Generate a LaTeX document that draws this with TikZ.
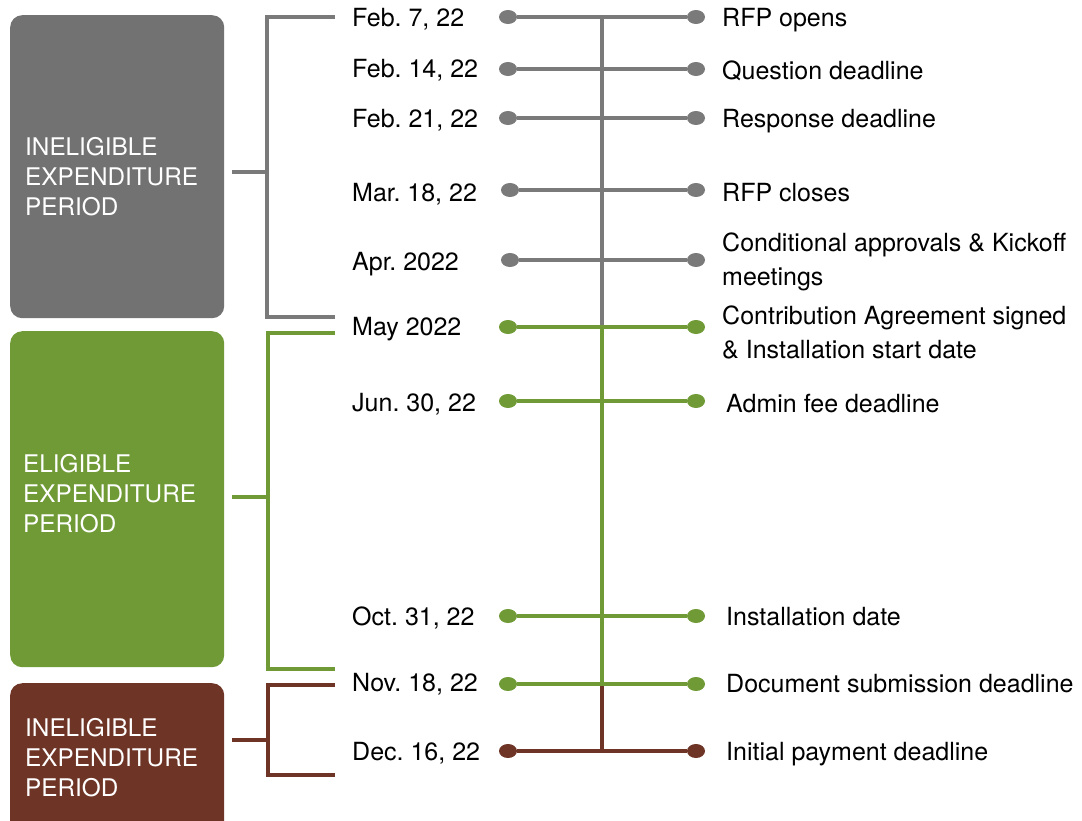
\documentclass[tikz,border=0pt]{standalone}
\usepackage{fontspec}
\setmainfont{TeX Gyre Heros}
\usetikzlibrary{positioning,shapes.geometric}
\definecolor{periodgray}{HTML}{727272}
\definecolor{linegray}{HTML}{7A7A7A}
\definecolor{periodgreen}{HTML}{6F9A36}
\definecolor{periodbrown}{HTML}{6E3527}
\frenchspacing

\begin{document}
\begin{tikzpicture}[
  x=1pt, y=-1pt,
  boxstyle/.style={rounded corners=12pt, draw=none, inner sep=0, anchor=north west, minimum width=214pt},
  boxtext/.style={anchor=north west, align=left, text=white, inner sep=0, font=\fontsize{24.3}{30}\selectfont},
  datestyle/.style={anchor=west, inner sep=0, text height=18pt, text depth=0pt, font=\fontsize{25}{34}\selectfont},
  labelstyle/.style={anchor=west, inner sep=0, text height=18pt, text depth=0pt, font=\fontsize{25}{34}\selectfont},
  twolinestyle/.style={anchor=north west, inner sep=0, align=left, font=\fontsize{25}{34}\selectfont},
  dotstyle/.style={ellipse, inner sep=0, outer sep=0, minimum width=18pt, minimum height=14pt, fill=#1},
  linestyle/.style={draw=#1, line width=3.4pt}
]
  \useasboundingbox (0,0) rectangle (1082,820);

  % period boxes
  \node[boxstyle, fill=periodgray, minimum height=303pt] (P1) at (10,15) {};
  \node[boxstyle, fill=periodgreen, minimum height=336pt] (P2) at (10,331) {};
  \node[boxstyle, fill=periodbrown, minimum height=160pt] (P3) at (10,683) {};

  \node[boxtext] (P1TEXT) at (25,137) {INELIGIBLE\\EXPENDITURE\\PERIOD};
  \node[boxtext] (P2TEXT) at (23,454) {ELIGIBLE\\EXPENDITURE\\PERIOD};
  \node[boxtext] (P3TEXT) at (25,718) {INELIGIBLE\\EXPENDITURE\\PERIOD};

  % dates
  \node[datestyle] (D1) at (352,17) {Feb. 7, 22};
  \node[datestyle] (D2) at (352,68) {Feb. 14, 22};
  \node[datestyle] (D3) at (352,118) {Feb. 21, 22};
  \node[datestyle] (D4) at (352,192) {Mar. 18, 22};
  \node[datestyle] (D5) at (352,261) {Apr. 2022};
  \node[datestyle] (D6) at (352,326) {May 2022};
  \node[datestyle] (D7) at (352,402) {Jun. 30, 22};
  \node[datestyle] (D8) at (352,616) {Oct. 31, 22};
  \node[datestyle] (D9) at (352,682) {Nov. 18, 22};
  \node[datestyle] (D10) at (352,751) {Dec. 16, 22};

  % dots
  \node[dotstyle=linegray] (L1) at (508,17) {};
  \node[dotstyle=linegray] (L2) at (508,69) {};
  \node[dotstyle=linegray] (L3) at (508,118) {};
  \node[dotstyle=linegray] (L4) at (510,190) {};
  \node[dotstyle=linegray] (L5) at (510,260) {};
  \node[dotstyle=periodgreen] (L6) at (508,327) {};
  \node[dotstyle=periodgreen] (L7) at (508,401) {};
  \node[dotstyle=periodgreen] (L8) at (508,616) {};
  \node[dotstyle=periodgreen] (L9) at (508,684) {};
  \node[dotstyle=periodbrown] (L10) at (508,751) {};

  \node[dotstyle=linegray] (R1) at (696,17) {};
  \node[dotstyle=linegray] (R2) at (696,69) {};
  \node[dotstyle=linegray] (R3) at (696,118) {};
  \node[dotstyle=linegray] (R4) at (696,190) {};
  \node[dotstyle=linegray] (R5) at (696,260) {};
  \node[dotstyle=periodgreen] (R6) at (696,327) {};
  \node[dotstyle=periodgreen] (R7) at (696,401) {};
  \node[dotstyle=periodgreen] (R8) at (696,616) {};
  \node[dotstyle=periodgreen] (R9) at (696,684) {};
  \node[dotstyle=periodbrown] (R10) at (696,751) {};

  % events
  \node[labelstyle] (T1) at (722,17) {RFP opens};
  \node[labelstyle] (T2) at (722,70) {Question deadline};
  \node[labelstyle] (T3) at (722,118) {Response deadline};
  \node[labelstyle] (T4) at (722,192) {RFP closes};
  \node[twolinestyle] (T5) at (722,233) {Conditional approvals \& Kickoff\\meetings};
  \node[twolinestyle] (T6) at (722,306) {Contribution Agreement signed\\\& Installation start date};
  \node[labelstyle] (T7) at (726,403) {Admin fee deadline};
  \node[labelstyle] (T8) at (726,616) {Installation date};
  \node[labelstyle] (T9) at (726,683) {Document submission deadline};
  \node[labelstyle] (T10) at (726,751) {Initial payment deadline};

  % spine and brackets
  \coordinate (SPINE) at (602,0);
  \coordinate (BX) at (267,0);
  \coordinate (BX2) at (268,0);
  \coordinate (S1) at (232,172);
  \coordinate (S2) at (232,497);
  \coordinate (S3) at (232,740);
  \coordinate (G1) at (335,17);
  \coordinate (G2) at (335,317);
  \coordinate (G3) at (335,333);
  \coordinate (G4) at (335,669);
  \coordinate (G5) at (335,685);
  \coordinate (G6) at (335,775);

  \draw[linestyle=linegray] (L1 -| SPINE) -- (L6 -| SPINE);
  \draw[linestyle=periodgreen] (L6 -| SPINE) -- (L9 -| SPINE);
  \draw[linestyle=periodbrown] (L9 -| SPINE) -- (L10 -| SPINE);

  \draw[linestyle=linegray] (L1) -- (R1);
  \draw[linestyle=linegray] (L2) -- (R2);
  \draw[linestyle=linegray] (L3) -- (R3);
  \draw[linestyle=linegray] (L4) -- (R4);
  \draw[linestyle=linegray] (L5) -- (R5);
  \draw[linestyle=periodgreen] (L6) -- (R6);
  \draw[linestyle=periodgreen] (L7) -- (R7);
  \draw[linestyle=periodgreen] (L8) -- (R8);
  \draw[linestyle=periodgreen] (L9) -- (R9);
  \draw[linestyle=periodbrown] (L10) -- (R10);

  \draw[linestyle=linegray] (G1) -- (G1 -| BX) -- (G2 -| BX) -- (G2);
  \draw[linestyle=linegray] (S1) -- (S1 -| BX);
  \draw[linestyle=periodgreen] (G3) -- (G3 -| BX2) -- (G4 -| BX2) -- (G4);
  \draw[linestyle=periodgreen] (S2) -- (S2 -| BX2);
  \draw[linestyle=periodbrown] (G5) -- (G5 -| BX2) -- (G6 -| BX2) -- (G6);
  \draw[linestyle=periodbrown] (S3) -- (S3 -| BX2);
\end{tikzpicture}
\end{document}
